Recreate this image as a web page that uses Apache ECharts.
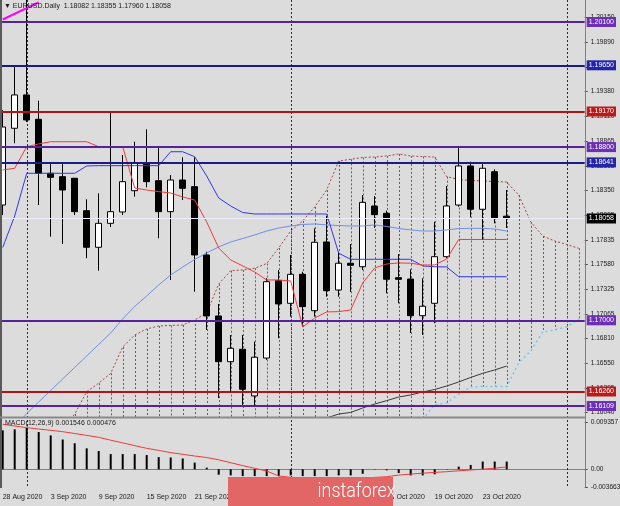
<!DOCTYPE html>
<html><head><meta charset="utf-8">
<script src="https://cdn.jsdelivr.net/npm/echarts@6/dist/echarts.min.js"></script>
<style>html,body{margin:0;padding:0;background:#dcdcdc}#c{width:620px;height:506px}</style>
</head><body><div id="c"></div>
<script>
// ---------- DATA ----------
const dates = ['28 Aug 2020','31 Aug 2020','1 Sep 2020','2 Sep 2020','3 Sep 2020','4 Sep 2020','7 Sep 2020','8 Sep 2020','9 Sep 2020','10 Sep 2020','11 Sep 2020','14 Sep 2020','15 Sep 2020','16 Sep 2020','17 Sep 2020','18 Sep 2020','21 Sep 2020','22 Sep 2020','23 Sep 2020','24 Sep 2020','25 Sep 2020','28 Sep 2020','29 Sep 2020','30 Sep 2020','1 Oct 2020','2 Oct 2020','5 Oct 2020','6 Oct 2020','7 Oct 2020','8 Oct 2020','9 Oct 2020','12 Oct 2020','13 Oct 2020','14 Oct 2020','15 Oct 2020','16 Oct 2020','19 Oct 2020','20 Oct 2020','21 Oct 2020','22 Oct 2020','23 Oct 2020','26 Oct 2020','27 Oct 2020','28 Oct 2020','29 Oct 2020','30 Oct 2020','2 Nov 2020','3 Nov 2020','4 Nov 2020'];
const xLabels = ['28 Aug 2020','3 Sep 2020','9 Sep 2020','15 Sep 2020','21 Sep 2020','25 Sep 2020','1 Oct 2020','7 Oct 2020','13 Oct 2020','19 Oct 2020','23 Oct 2020'];
const separatorDates = ['1 Sep 2020','1 Oct 2020','3 Nov 2020'];

const opens  = [1.18198,1.18996,1.19342,1.19089,1.18528,1.18493,1.18476,1.18139,1.17759,1.18008,1.18126,1.18347,1.18632,1.18451,1.18129,1.18458,1.18389,1.17679,1.17045,1.16570,1.16699,1.16214,1.16608,1.17412,1.17177,1.17478,1.17100,1.17814,1.17315,1.17593,1.17557,1.18188,1.18112,1.17443,1.17429,1.17048,1.17177,1.17661,1.18198,1.18604,1.18154,1.18544,1.18082];
const closes = [1.19009,1.19342,1.19082,1.18528,1.18486,1.18354,1.18129,1.17759,1.18008,1.18129,1.18441,1.18638,1.18441,1.18129,1.18458,1.18372,1.17679,1.17045,1.16570,1.16709,1.16283,1.16616,1.17401,1.17170,1.17478,1.17142,1.17811,1.17308,1.17593,1.17572,1.18226,1.18098,1.17426,1.17426,1.17048,1.17146,1.17661,1.18188,1.18604,1.18154,1.18580,1.18060,1.18058];
const lows   = [1.18094,1.18840,1.19060,1.18198,1.17869,1.17793,1.18094,1.17645,1.17516,1.17970,1.18094,1.18285,1.18382,1.17852,1.17419,1.18250,1.17297,1.16899,1.16193,1.16245,1.16120,1.16120,1.16588,1.16813,1.17038,1.16934,1.17038,1.17245,1.17245,1.17294,1.17523,1.17959,1.17281,1.17177,1.16868,1.16847,1.16969,1.17648,1.18181,1.18071,1.17835,1.18008,1.17960];
const highs  = [1.19186,1.19653,1.20330,1.19282,1.18624,1.18624,1.18480,1.18258,1.18320,1.19168,1.18718,1.18856,1.18985,1.18812,1.18510,1.18694,1.18694,1.17713,1.17170,1.16847,1.16847,1.16778,1.17437,1.17523,1.17679,1.17505,1.17956,1.18084,1.17713,1.17793,1.18302,1.18292,1.18140,1.17689,1.17530,1.17437,1.18025,1.18396,1.18812,1.18648,1.18632,1.18569,1.18355];

const tenkan = [1.18562,1.18580,1.18804,1.18833,1.18856,1.18856,1.18856,1.18856,1.18804,1.18804,1.18804,1.18375,1.18354,1.18337,1.18323,1.18282,1.18250,1.18022,1.17752,1.17627,1.17565,1.17502,1.17419,1.17419,1.17409,1.16931,1.17024,1.17087,1.17090,1.17107,1.17388,1.17544,1.17585,1.17596,1.17593,1.17575,1.17575,1.17637,1.17840,1.17840,1.17840,1.17840,1.17840];
const kijun  = [1.17757,1.18084,1.18528,1.18528,1.18528,1.18528,1.18528,1.18604,1.18607,1.18607,1.18607,1.18607,1.18607,1.18607,1.18752,1.18752,1.18700,1.18500,1.18271,1.18188,1.18120,1.18105,1.18105,1.18105,1.18105,1.18105,1.18105,1.18105,1.17697,1.17634,1.17634,1.17634,1.17634,1.17634,1.17634,1.17565,1.17557,1.17554,1.17453,1.17453,1.17453,1.17453,1.17453];
const maFast = [null,1.15891,1.16031,1.16151,1.16271,1.16390,1.16510,1.16629,1.16749,1.16868,1.17014,1.17144,1.17253,1.17367,1.17471,1.17554,1.17632,1.17700,1.17762,1.17814,1.17850,1.17887,1.17928,1.17959,1.17980,1.17996,1.18001,1.17991,1.17985,1.17980,1.17980,1.17991,1.17975,1.17954,1.17939,1.17928,1.17928,1.17939,1.17954,1.17956,1.17956,1.17949,1.17928];
const maSlow = [null,null,null,null,null,null,null,null,null,null,null,null,null,null,null,null,null,null,null,null,null,null,null,null,null,null,null,1.15985,1.16026,1.16042,1.16089,1.16130,1.16165,1.16203,1.16224,1.16255,1.16281,1.16317,1.16359,1.16406,1.16449,1.16484,1.16525];

const spanUpper = [null,null,null,null,null,1.15880,1.16026,1.16258,1.16346,1.16449,1.16723,1.16847,1.16910,1.16941,1.16946,1.16951,1.17003,1.17076,1.17377,1.17516,1.17523,1.17541,1.17590,1.17752,1.17928,1.18032,1.18178,1.18354,1.18656,1.18673,1.18692,1.18697,1.18708,1.18728,1.18708,1.18702,1.18697,1.18493,1.18463,1.18453,1.18448,1.18443,1.18437,1.18302,1.18022,1.17876,1.17824,1.17788,1.17748];
const spanLower = [null,null,null,null,null,null,null,null,null,null,null,null,null,null,null,null,null,null,null,null,null,null,null,null,null,null,null,null,null,null,null,null,null,null,null,1.15969,1.16125,1.16141,1.16234,1.16307,1.16312,1.16312,1.16312,1.16556,1.16681,1.16879,1.16899,1.16931,1.17014];

const macdHist = [0.00779,0.00800,0.00826,0.00745,0.00678,0.00596,0.00521,0.00419,0.00366,0.00305,0.00305,0.00305,0.00285,0.00244,0.00236,0.00216,0.00134,0.00033,-0.00108,-0.00122,-0.00136,-0.00136,-0.00136,-0.00136,-0.00122,-0.00136,-0.00136,-0.00136,-0.00122,-0.00122,-0.00090,-0.00005,-0.00020,-0.00075,-0.00122,-0.00122,-0.00100,0.00005,0.00053,0.00087,0.00155,0.00155,0.001546];
const macdSignal = [0.00900,0.00866,0.00832,0.00806,0.00780,0.00752,0.00716,0.00678,0.00640,0.00582,0.00528,0.00474,0.00420,0.00378,0.00334,0.00300,0.00266,0.00236,0.00190,0.00132,0.00074,0.00020,-0.00034,-0.00134,-0.00160,-0.00170,-0.00176,-0.00176,-0.00176,-0.00176,-0.00170,-0.00162,-0.00148,-0.00116,-0.00096,-0.00078,-0.00062,-0.00048,-0.00030,-0.00014,0.00002,0.00022,0.000476];

const priceTicks = [1.20150,1.19890,1.19635,1.19380,1.19120,1.18865,1.18605,1.18350,1.18095,1.17835,1.17580,1.17325,1.17065,1.16810,1.16550,1.16295,1.16040];
const macdTicks = [0.009357, 0, -0.003663];

const levelValues = [1.20100,1.19650,1.19170,1.18800,1.18641,1.17000,1.16260,1.16109];
const levelKinds  = ['purple','navy','red','purple','navy','purple','red','purple'];
const trendDates  = ['28 Aug 2020','2 Sep 2020'];
const trendValues = [1.20126,1.20305];

// ---------- LAYOUT / STYLE ----------
const Y_MIN = 1.15995, Y_MAX = 1.20308, M_MIN = -0.00374, M_MAX = 0.01026;
const FONT = "'Liberation Sans', Arial, sans-serif";
const LV = {purple:{line:'#55229a', tag:'#6b2fb8'}, navy:{line:'#1b1b88', tag:'#2424a6'}, red:{line:'#b01414', tag:'#bb1a1a'}};
const last = opens.length - 1;
const candleData = opens.map((o,i)=>[o, closes[i], lows[i], highs[i]]);
const sepIdx = separatorDates.map(d=>dates.indexOf(d));

const tagLabel = (bg) => ({show:true, position:'end', distance:2, formatter:p=>Number(p.value).toFixed(5),
  backgroundColor:bg, color:'#fff', fontSize:7, fontFamily:FONT, padding:[1,2,1,2], lineHeight:8});

const markData = levelValues.map((v,i)=>({yAxis:v, lineStyle:{color:LV[levelKinds[i]].line, width:2, type:'solid'}, label:tagLabel(LV[levelKinds[i]].tag)}));
markData.push({yAxis:closes[last], lineStyle:{color:'#eeeefa', width:1, type:'solid'}, label:tagLabel('#000')});
markData.push([{coord:[trendDates[0], trendValues[0]], lineStyle:{color:'#ff00ff', width:2, type:'solid'}, label:{show:false}}, {coord:[trendDates[1], trendValues[1]]}]);

function sepRender(params, api){
  const i = sepIdx[params.dataIndex];
  const cs = params.coordSys;
  const x = Math.round(api.coord([i, 0])[0]) + 0.5;
  return {type:'line', shape:{x1:x, y1:cs.y - 2, x2:x, y2:cs.y + cs.height}, style:{stroke:'#2a2a2a', lineWidth:1, lineDash:[2,2]}};
}
function hatchRender(params, api){
  const i = params.dataIndex;
  const up = spanUpper[i], lo = spanLower[i];
  if (up == null) return null;
  const cs = params.coordSys;
  const p = api.coord([i, up]);
  const x = Math.round(p[0]) + 0.5;
  let y1 = Math.max(p[1], cs.y);
  let y2 = lo == null ? cs.y + cs.height : Math.min(api.coord([i, lo])[1], cs.y + cs.height);
  if (y2 <= y1) return null;
  return {type:'line', shape:{x1:x, y1:y1, x2:x, y2:y2}, style:{stroke:'#a44646', lineWidth:1, lineDash:[2,2]}};
}

const lineS = (data, color, extra) => Object.assign({type:'line', data:data, xAxisIndex:0, yAxisIndex:0, showSymbol:false, symbol:'none', connectNulls:false, silent:true, z:3, lineStyle:{color:color, width:1}}, extra||{});

const option = {
  animation:false,
  backgroundColor:'#dcdcdc',
  title:[
    {text:'\u25BC EURUSD.Daily  ' + [opens[last],highs[last],lows[last],closes[last]].map(v=>v.toFixed(5)).join(' '), left:4, top:3, padding:0, textStyle:{fontSize:7, fontWeight:'normal', color:'#1a1a1a', fontFamily:FONT}},
    {text:'MACD(12,26,9) ' + macdHist[last].toFixed(6) + ' ' + macdSignal[last].toFixed(6), left:5, top:420, padding:0, textStyle:{fontSize:7, fontWeight:'normal', color:'#1a1a1a', fontFamily:FONT}}
  ],
  grid:[{left:-3.3, top:2, width:588, height:415, outerBoundsMode:'none', containLabel:false},
        {left:-3.3, top:418, width:588, height:70, outerBoundsMode:'none', containLabel:false}],
  xAxis:[
    {type:'category', gridIndex:0, data:dates, boundaryGap:true, axisLine:{show:false}, axisTick:{show:false}, axisLabel:{show:false}, splitLine:{show:false}},
    {type:'category', gridIndex:1, data:dates, boundaryGap:true, axisLine:{show:true, lineStyle:{color:'#808080'}}, axisTick:{show:false},
     axisLabel:{interval:(idx, val)=>xLabels.indexOf(val) >= 0, showMinLabel:true, hideOverlap:false, align:'left', fontSize:7, color:'#1a1a1a', margin:6, fontFamily:FONT}, splitLine:{show:false}}
  ],
  yAxis:[
    {type:'value', gridIndex:0, position:'right', min:Y_MIN, max:Y_MAX, axisLine:{show:false}, splitLine:{show:false},
     axisTick:{show:true, customValues:priceTicks, length:3, lineStyle:{color:'#444'}},
     axisLabel:{customValues:priceTicks, formatter:v=>v.toFixed(5), fontSize:6.6, color:'#1a1a1a', margin:6, fontFamily:FONT}},
    {type:'value', gridIndex:1, position:'right', min:M_MIN, max:M_MAX, axisLine:{show:false}, splitLine:{show:false},
     axisTick:{show:true, customValues:macdTicks, length:3, lineStyle:{color:'#444'}},
     axisLabel:{customValues:macdTicks, formatter:v=>(Math.abs(v) < 1e-9 ? '0.00' : v.toFixed(6)), fontSize:6.6, color:'#1a1a1a', margin:6, fontFamily:FONT}}
  ],
  graphic:[
    {type:'line', z:100, shape:{x1:1, y1:0, x2:1, y2:488}, style:{stroke:'#5a5a5a', lineWidth:2}},
    {type:'line', z:100, shape:{x1:585.5, y1:0, x2:585.5, y2:488}, style:{stroke:'#808080', lineWidth:1}},
    {type:'line', z:100, shape:{x1:0, y1:417.5, x2:586, y2:417.5}, style:{stroke:'#8a8a8a', lineWidth:2}},
    {type:'rect', z:101, shape:{x:228, y:477, width:165, height:29}, style:{fill:'#e26666'}},
    {type:'text', z:102, x:310, y:492, scaleX:0.85, originX:310, originY:492, style:{text:'instaforex', fill:'#ffffff', font:'300 21px Roboto, "Open Sans", sans-serif', textAlign:'center', textVerticalAlign:'middle'}}
  ],
  series:[
    {type:'custom', name:'sep', xAxisIndex:0, yAxisIndex:0, data:sepIdx.map(i=>[i, 1.18]), renderItem:sepRender, silent:true, z:1},
    {type:'custom', name:'cloud', xAxisIndex:0, yAxisIndex:0, data:spanUpper.map((v,i)=>[i, v == null ? Y_MIN : v]), renderItem:hatchRender, silent:true, z:1},
    lineS(spanUpper, '#a44646', {z:1, lineStyle:{color:'#a44646', width:1, type:[2,2]}}),
    lineS(spanLower, '#78c6ee', {z:1, lineStyle:{color:'#78c6ee', width:1.5, type:[2,3]}}),
    {type:'candlestick', xAxisIndex:0, yAxisIndex:0, data:candleData, barWidth:7, z:2, silent:true, clip:true,
     itemStyle:{color:'#ffffff', color0:'#000000', borderColor:'#000000', borderColor0:'#000000', borderWidth:1},
     markLine:{symbol:['none','none'], precision:5, silent:true, animation:false, data:markData}},
    lineS(maSlow, '#3a3a3a'),
    lineS(maFast, '#6f8fe6'),
    lineS(kijun, '#3535f0'),
    lineS(tenkan, '#f23a3a'),
    {type:'custom', name:'sep2', xAxisIndex:1, yAxisIndex:1, data:sepIdx.map(i=>[i, 0]), renderItem:sepRender, silent:true, z:1},
    {type:'bar', xAxisIndex:1, yAxisIndex:1, data:macdHist, barWidth:2, itemStyle:{color:'#000000'}, silent:true, z:2},
    {type:'line', xAxisIndex:1, yAxisIndex:1, data:macdSignal, showSymbol:false, symbol:'none', silent:true, z:3, lineStyle:{color:'#f23a3a', width:1}}
  ]
};
const chart = echarts.init(document.getElementById('c'));
chart.setOption(option);
</script></body></html>
